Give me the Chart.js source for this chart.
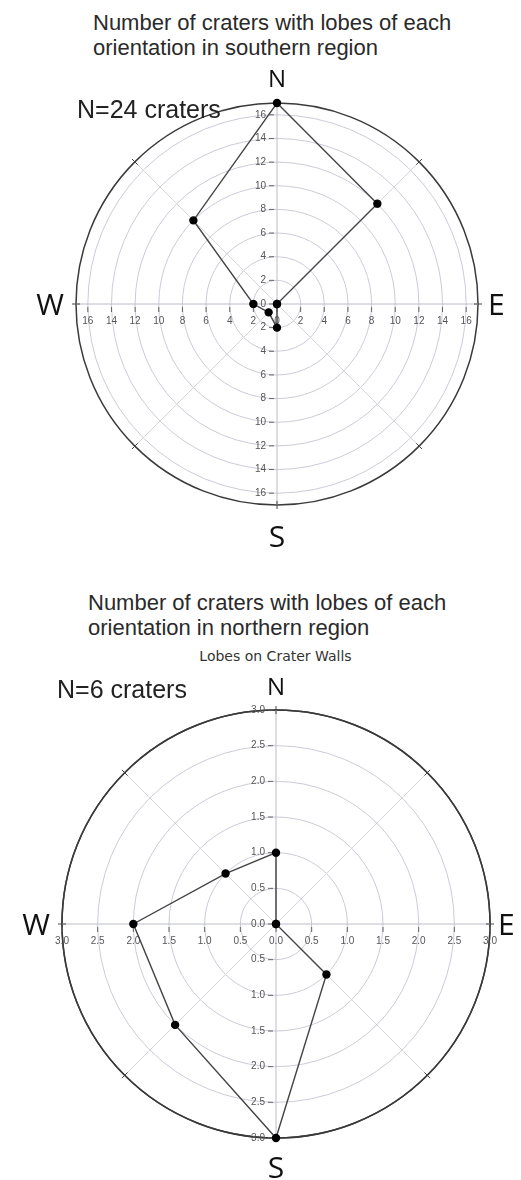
<!DOCTYPE html>
<html>
<head>
<meta charset="utf-8">
<script src="https://cdn.jsdelivr.net/npm/chart.js@4"></script>
<style>
  body { margin: 0; background: #fff; width: 521px; height: 1180px; position: relative; overflow: hidden; font-family: 'Liberation Sans', Arial, sans-serif; color: #222; }
  canvas { position: absolute; left: 0; }
  .titulo { position: absolute; font-size: 22px; line-height: 25px; white-space: nowrap; color: #2a2a2a; }
  .nota { position: absolute; font-size: 25px; line-height: 25px; white-space: nowrap; color: #222; z-index: 2; }
  .sub { position: absolute; font-family: 'DejaVu Sans', sans-serif; font-size: 14px; color: #333; left: 0; width: 551px; text-align: center; }
</style>
</head>
<body>
<div class="titulo" style="left:93px; top:10px;">Number of craters with lobes of each<br>orientation in southern region</div>
<div class="nota" style="left:77px; top:97px;">N=24 craters</div>
<canvas id="graficoSul" width="521" height="580" style="top:0px;"></canvas>

<div class="titulo" style="left:88px; top:590px;">Number of craters with lobes of each<br>orientation in northern region</div>
<div class="sub" style="top:648px;">Lobes on Crater Walls</div>
<div class="nota" style="left:57px; top:677px;">N=6 craters</div>
<canvas id="graficoNorte" width="521" height="600" style="top:580px;"></canvas>

<script>
const direcoes = ['N', 'NE', 'E', 'SE', 'S', 'SW', 'W', 'NW'];

const valoresSul = [17, 12, 0, 0, 2, 1, 2, 10];
const ticksSul = [0, 2, 4, 6, 8, 10, 12, 14, 16];
const maxSul = 17;

const valoresNorte = [1, 0, 0, 1, 3, 2, 2, 1];
const ticksNorte = [0, 0.5, 1.0, 1.5, 2.0, 2.5, 3.0];
const maxNorte = 3;

// desenha os rotulos cartesianos, marcas e letras N/E/S/W
function criarEixos(ticks, casas, letras) {
  return {
    id: 'eixos',
    beforeDatasetsDraw(chart) {
      const r = chart.scales.r;
      const ctx = chart.ctx;
      const cx = r.xCenter, cy = r.yCenter;
      const raio = r.getDistanceFromCenterForValue(r.max);
      ctx.save();

      // marcas no circulo externo
      ctx.strokeStyle = '#444';
      ctx.lineWidth = 1;
      for (let i = 0; i < direcoes.length; i++) {
        const a = r.getPointPosition(i, raio - 4);
        const b = r.getPointPosition(i, raio + 4);
        ctx.beginPath();
        ctx.moveTo(a.x, a.y);
        ctx.lineTo(b.x, b.y);
        ctx.stroke();
      }

      // rotulos dos eixos
      ctx.font = '10px "Liberation Sans", Arial, sans-serif';
      ctx.fillStyle = '#555';
      ctx.strokeStyle = '#666';
      ticks.forEach(v => {
        const d = r.getDistanceFromCenterForValue(v);
        const txt = v.toFixed(casas);
        // vertical
        ctx.textAlign = 'right';
        ctx.textBaseline = 'middle';
        const ys = v === 0 ? [cy] : [cy - d, cy + d];
        ys.forEach(y => {
          ctx.fillText(txt, cx - 11, y);
          ctx.beginPath();
          ctx.moveTo(cx - 8, y);
          ctx.lineTo(cx - 3, y);
          ctx.stroke();
        });
        // horizontal
        ctx.textAlign = 'center';
        const xs = v === 0 ? [cx] : [cx - d, cx + d];
        xs.forEach(x => {
          ctx.fillText(txt, x, cy + 17);
          ctx.beginPath();
          ctx.moveTo(x, cy + 3);
          ctx.lineTo(x, cy + 8);
          ctx.stroke();
        });
      });

      // letras
      ctx.fillStyle = '#111';
      ctx.textBaseline = 'alphabetic';
      ctx.font = '24px "Open Sans", sans-serif';
      ctx.textAlign = 'center';
      ctx.fillText('N', cx, cy - raio - letras.n);
      ctx.font = '30px "Open Sans", sans-serif';
      ctx.fillText('S', cx, cy + raio + letras.s);
      ctx.textAlign = 'right';
      ctx.fillText('W', cx - raio - 12, cy + 11);
      ctx.textAlign = 'left';
      ctx.fillText('E', cx + raio + letras.e, cy + 11);
      ctx.restore();
    }
  };
}

function gerarGrafico(id, valores, ticks, max, casas, padding, letras) {
  new Chart(document.getElementById(id), {
    type: 'radar',
    data: {
      labels: direcoes,
      datasets: [{
        data: valores,
        borderColor: '#444',
        borderWidth: 1.4,
        pointRadius: 3.5,
        pointBackgroundColor: '#000',
        pointBorderColor: '#000',
        fill: false,
        clip: false
      }]
    },
    options: {
      responsive: false,
      animation: false,
      layout: { padding: padding },
      plugins: {
        legend: { display: false },
        tooltip: { enabled: false }
      },
      scales: {
        r: {
          min: 0,
          max: max,
          afterBuildTicks: scale => {
            scale.ticks = ticks.concat([max]).map(v => ({ value: v }));
          },
          ticks: { display: false },
          pointLabels: { display: false },
          grid: {
            circular: true,
            color: c => c.tick && c.tick.value === max ? '#3a3a3a' : '#cbcbd9',
            lineWidth: c => c.tick && c.tick.value === max ? 1.5 : 1
          },
          angleLines: {
            color: c => c.index % 2 === 0 ? '#bcbccb' : '#d6d6d6',
            lineWidth: 1
          }
        }
      }
    },
    plugins: [criarEixos(ticks, casas, letras)]
  });
}

gerarGrafico('graficoSul', valoresSul, ticksSul, maxSul, 0,
  { left: 76, right: 43, top: 103, bottom: 75 }, { n: 16, s: 42, e: 10 });
gerarGrafico('graficoNorte', valoresNorte, ticksNorte, maxNorte, 1,
  { left: 62, right: 31, top: 130, bottom: 42 }, { n: 15, s: 40, e: 8 });
</script>
</body>
</html>
